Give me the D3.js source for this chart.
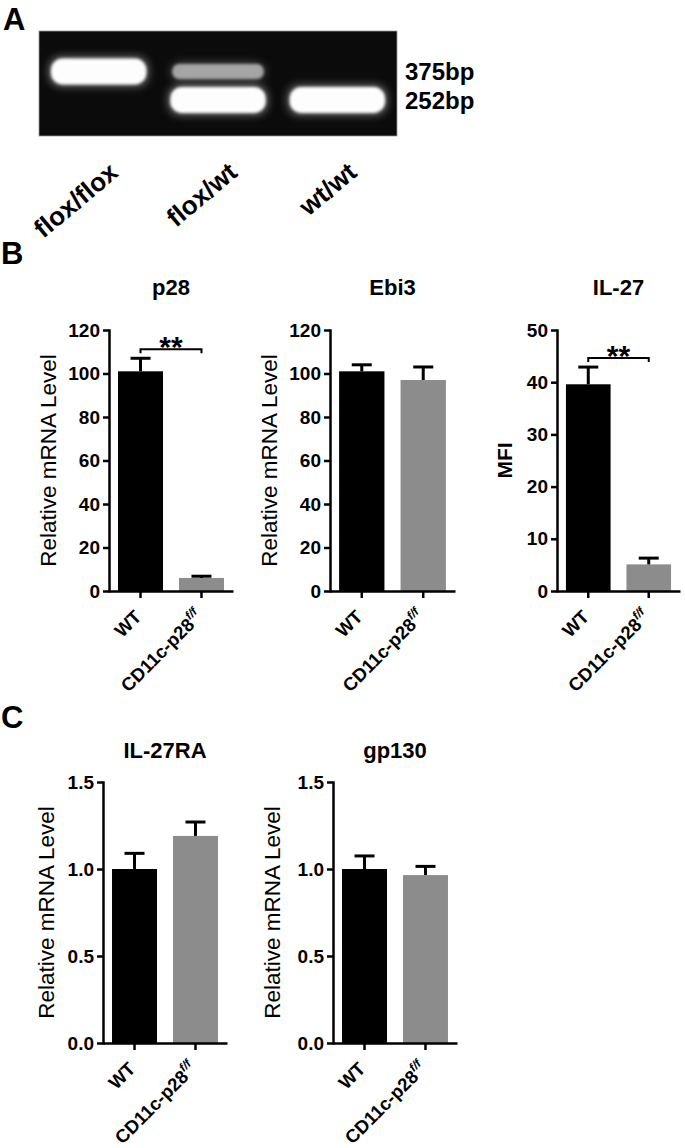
<!DOCTYPE html>
<html>
<head>
<meta charset="utf-8">
<script src="https://cdn.jsdelivr.net/npm/d3@7/dist/d3.min.js"></script>
<style>
  html, body { margin: 0; padding: 0; background: #fff; }
  svg { display: block; font-family: "Liberation Sans", Arial, Helvetica, sans-serif; }
</style>
</head>
<body>
<svg id="fig" width="685" height="1148"></svg>
<script>
// ---------------- DATA ----------------
const genotypes = ["flox/flox", "flox/wt", "wt/wt"];
const bandSizes = ["375bp", "252bp"];
const bandBp = [375, 252];
const band375 = [1.0, 0.55, 0];
const band252 = [0, 1.0, 1.0];

const groups = ["WT", "CD11c-p28"];
const groupSup = ["", "f/f"];

const p28Mean = [101, 6];
const p28Err = [6, 0.8];
const ebi3Mean = [101, 97];
const ebi3Err = [3, 6];
const il27Mean = [39.6, 5.1];
const il27Err = [3.3, 1.2];
const il27raMean = [1.0, 1.19];
const il27raErr = [0.09, 0.08];
const gp130Mean = [1.0, 0.965];
const gp130Err = [0.075, 0.05];

const mrnaTicks = [0, 20, 40, 60, 80, 100, 120];
const mfiTicks = [0, 10, 20, 30, 40, 50];
const relTicks = [0, 0.5, 1.0, 1.5];

// ---------------- DRAW ----------------
const svg = d3.select("#fig");
const FONT = '"Liberation Sans", Arial, Helvetica, sans-serif';
const barColors = ["#000000", "#8c8c8c"];

// panel letters
[["A", 3, 30], ["B", 1, 264], ["C", 1, 728]].forEach(([t, x, y]) => {
  svg.append("text").attr("x", x).attr("y", y).attr("font-size", 31)
    .attr("font-weight", "bold").text(t);
});

// ---------- Panel A : gel ----------
const defs = svg.append("defs");
defs.append("filter").attr("id", "glow").attr("x", "-30%").attr("y", "-80%")
  .attr("width", "160%").attr("height", "260%")
  .append("feGaussianBlur").attr("stdDeviation", 4);
defs.append("filter").attr("id", "soft").attr("x", "-20%").attr("y", "-50%")
  .attr("width", "140%").attr("height", "200%")
  .append("feGaussianBlur").attr("stdDeviation", 1.4);

const gel = { x0: 39, x1: 397, y0: 31, y1: 136 };
svg.append("rect").attr("x", gel.x0).attr("y", gel.y0)
  .attr("width", gel.x1 - gel.x0).attr("height", gel.y1 - gel.y0)
  .attr("fill", "#0b0b0b").attr("stroke", "#9a9a9a").attr("stroke-width", 0.8);

const laneX = d3.scaleBand().domain(genotypes).range([gel.x0, gel.x1])
  .paddingInner(0.2).paddingOuter(0.1);
const bpY = d3.scaleLog().domain([252, 375]).range([100, 71.5]);

const bandData = [];
genotypes.forEach((g, i) => {
  [band375[i], band252[i]].forEach((inten, j) => {
    if (inten > 0) bandData.push({ g, bp: bandBp[j], inten });
  });
});
const gBands = svg.append("g");
bandData.forEach(d => {
  const w = laneX.bandwidth() - (d.inten < 1 ? 4 : 0);
  const h = d.inten < 1 ? 15 : 26;
  const x = laneX(d.g) + (laneX.bandwidth() - w) / 2;
  const y = bpY(d.bp) - h / 2;
  gBands.append("rect").attr("x", x - 2).attr("y", y - 2)
    .attr("width", w + 4).attr("height", h + 4).attr("rx", 12)
    .attr("fill", "#ffffff").attr("opacity", 0.4 * d.inten)
    .attr("filter", "url(#glow)");
  gBands.append("rect").attr("x", x).attr("y", y)
    .attr("width", w).attr("height", h).attr("rx", h / 2.2)
    .attr("fill", d.inten < 1 ? "#b8b8b8" : "#fdfdfd")
    .attr("opacity", d.inten < 1 ? 0.85 : 1)
    .attr("filter", "url(#soft)");
});

bandSizes.forEach((lab, j) => {
  svg.append("text").attr("x", 405).attr("y", bpY(bandBp[j]) + 8.5)
    .attr("font-size", 24).attr("font-weight", "bold").text(lab);
});
genotypes.forEach(g => {
  const cx = laneX(g) + laneX.bandwidth() / 2;
  svg.append("text").attr("text-anchor", "end").attr("font-size", 26)
    .attr("font-weight", "bold")
    .attr("transform", `translate(${cx + 21},175) rotate(-40)`).text(g);
});

// ---------- Bar panels ----------
function barPanel(cfg) {
  const g = svg.append("g");
  const y = d3.scaleLinear().domain([0, cfg.max]).range([cfg.yBot, cfg.yTop]);
  const x = d3.scaleBand().domain(groups).range([cfg.ax, cfg.xEnd])
    .paddingInner(0.262).paddingOuter(0.148);

  // bars
  g.selectAll("rect.bar").data(groups).join("rect").attr("class", "bar")
    .attr("x", d => x(d)).attr("width", x.bandwidth())
    .attr("y", (d, i) => y(cfg.mean[i]))
    .attr("height", (d, i) => y(0) - y(cfg.mean[i]))
    .attr("fill", (d, i) => barColors[i]);

  // error bars (upper only)
  groups.forEach((d, i) => {
    const cx = x(d) + x.bandwidth() / 2;
    const top = y(cfg.mean[i] + cfg.err[i]);
    g.append("line").attr("x1", cx).attr("x2", cx)
      .attr("y1", y(cfg.mean[i])).attr("y2", top)
      .attr("stroke", "#000").attr("stroke-width", 3);
    g.append("line").attr("x1", cx - 10).attr("x2", cx + 10)
      .attr("y1", top).attr("y2", top)
      .attr("stroke", "#000").attr("stroke-width", 3);
  });

  // y axis
  const yAxis = d3.axisLeft(y).tickValues(cfg.ticks).tickSize(6).tickSizeOuter(0)
    .tickPadding(3).tickFormat(cfg.fmt);
  const ya = g.append("g").attr("transform", `translate(${cfg.ax},0)`).call(yAxis);
  ya.attr("font-size", 19).attr("font-family", FONT);
  ya.select(".domain").attr("stroke-width", 2.5).attr("stroke-linecap", "square");
  ya.selectAll(".tick line").attr("stroke-width", 2.5);
  ya.selectAll(".tick text").attr("font-size", 19).attr("font-weight", "bold")
    .attr("fill", "#000");

  // x axis
  const xAxis = d3.axisBottom(x).tickSize(7).tickSizeOuter(0);
  const xa = g.append("g").attr("transform", `translate(0,${cfg.yBot})`).call(xAxis);
  xa.attr("font-size", 18.5).attr("font-family", FONT);
  xa.select(".domain").attr("stroke-width", 2.5);
  xa.selectAll(".tick line").attr("stroke-width", 2.5);
  xa.selectAll(".tick text").each(function(d, i) {
    const t = d3.select(this);
    t.text(null).attr("font-size", 18.5).attr("font-weight", "bold")
      .attr("fill", "#000")
      .attr("text-anchor", "end").attr("y", 0).attr("dy", null)
      .attr("transform", "translate(2,27) rotate(-45)");
    t.append("tspan").text(d);
    if (groupSup[i]) {
      t.append("tspan").attr("font-size", 12).attr("font-style", "italic")
        .attr("dy", -8).text(groupSup[i]);
    }
  });

  // title
  g.append("text").attr("x", (cfg.ax + cfg.xEnd) / 2).attr("y", cfg.titleY)
    .attr("text-anchor", "middle").attr("font-size", 22).attr("font-weight", "bold")
    .text(cfg.title);

  // y label
  g.append("text")
    .attr("transform", `translate(${cfg.ax - cfg.labOff},${(cfg.yTop + cfg.yBot) / 2}) rotate(-90)`)
    .attr("text-anchor", "middle").attr("dy", "0.35em")
    .attr("font-size", cfg.labBold ? 21 : 22.5).attr("font-weight", cfg.labBold ? "bold" : "normal")
    .text(cfg.ylabel);

  // significance
  if (cfg.sig) {
    const x1 = x(groups[0]) + x.bandwidth() / 2;
    const x2 = x(groups[1]) + x.bandwidth() / 2;
    const yb = y(d3.max(cfg.mean.map((m, i) => m + cfg.err[i]))) - 9;
    g.append("path").attr("d", `M${x1},${yb + 4}V${yb}H${x2}V${yb + 4}`)
      .attr("fill", "none").attr("stroke", "#000").attr("stroke-width", 2);
    g.append("text").attr("x", (x1 + x2) / 2).attr("y", yb + 8)
      .attr("text-anchor", "middle").attr("font-size", 30).attr("font-weight", "bold")
      .text(cfg.sig);
  }
}

const fInt = d3.format("d");
const fOne = d3.format(".1f");
const mrnaLabel = "Relative mRNA Level";

barPanel({ title: "p28", mean: p28Mean, err: p28Err, sig: "**", max: 120, ticks: mrnaTicks, fmt: fInt,
  ylabel: mrnaLabel, ax: 109, xEnd: 233, yTop: 330, yBot: 591, titleY: 295, labOff: 61 });
barPanel({ title: "Ebi3", mean: ebi3Mean, err: ebi3Err, sig: "", max: 120, ticks: mrnaTicks, fmt: fInt,
  ylabel: mrnaLabel, ax: 330, xEnd: 455, yTop: 330, yBot: 591, titleY: 295, labOff: 61 });
barPanel({ title: "IL-27", mean: il27Mean, err: il27Err, sig: "**", max: 50, ticks: mfiTicks, fmt: fInt,
  ylabel: "MFI", labBold: true, ax: 557, xEnd: 680, yTop: 330, yBot: 591, titleY: 295, labOff: 52 });
barPanel({ title: "IL-27RA", mean: il27raMean, err: il27raErr, sig: "", max: 1.5, ticks: relTicks, fmt: fOne,
  ylabel: mrnaLabel, ax: 103, xEnd: 227, yTop: 782, yBot: 1043, titleY: 758, labOff: 57 });
barPanel({ title: "gp130", mean: gp130Mean, err: gp130Err, sig: "", max: 1.5, ticks: relTicks, fmt: fOne,
  ylabel: mrnaLabel, ax: 333, xEnd: 457, yTop: 782, yBot: 1043, titleY: 758, labOff: 61 });
</script>
</body>
</html>
